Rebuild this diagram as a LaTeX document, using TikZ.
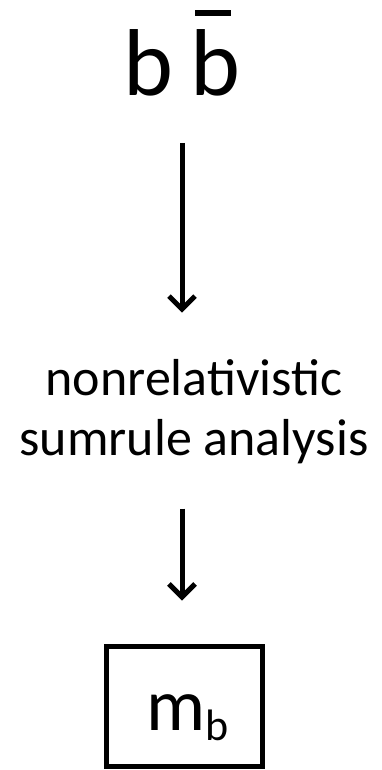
\documentclass[tikz,border=0pt]{standalone}
\usepackage{fontspec}
\setmainfont{Carlito}
\usetikzlibrary{arrows.meta}
\tikzset{
  arr/.style={line width=5pt, -{Straight Barb[length=13pt,width=26pt,line width=5pt]}},
  lbl/.style={anchor=base, inner sep=0pt},
}
\begin{document}
\begin{tikzpicture}[x=1pt,y=-1pt]
\useasboundingbox (0,0) rectangle (382,770);
\node[lbl, font=\fontsize{95}{95}\selectfont] (top) at (182,96) {b\hspace{18pt}b};
\fill (195,10) rectangle (231,16);
\node[lbl, font=\fontsize{52}{60}\selectfont] (mid1) at (194,395) {nonrelativistic};
\node[lbl, font=\fontsize{52}{60}\selectfont] (mid2) at (194,455) {sumrule analysis};
\node[draw, line width=5pt, minimum width=156pt, minimum height=120pt, inner sep=0pt] (box) at (184,706) {};
\node[anchor=base west, inner sep=0pt] (mb) at (146,730) {\fontsize{74}{74}\selectfont m\raisebox{-10pt}{\fontsize{44}{44}\selectfont b}};
\draw[arr, shorten <=46pt, shorten >=46pt] (top.south) -- (top.south |- mid1.north);
\draw[arr, shorten <=45pt, shorten >=43pt] (top.south |- mid2.south) -- (top.south |- box.north);
\end{tikzpicture}
\end{document}
